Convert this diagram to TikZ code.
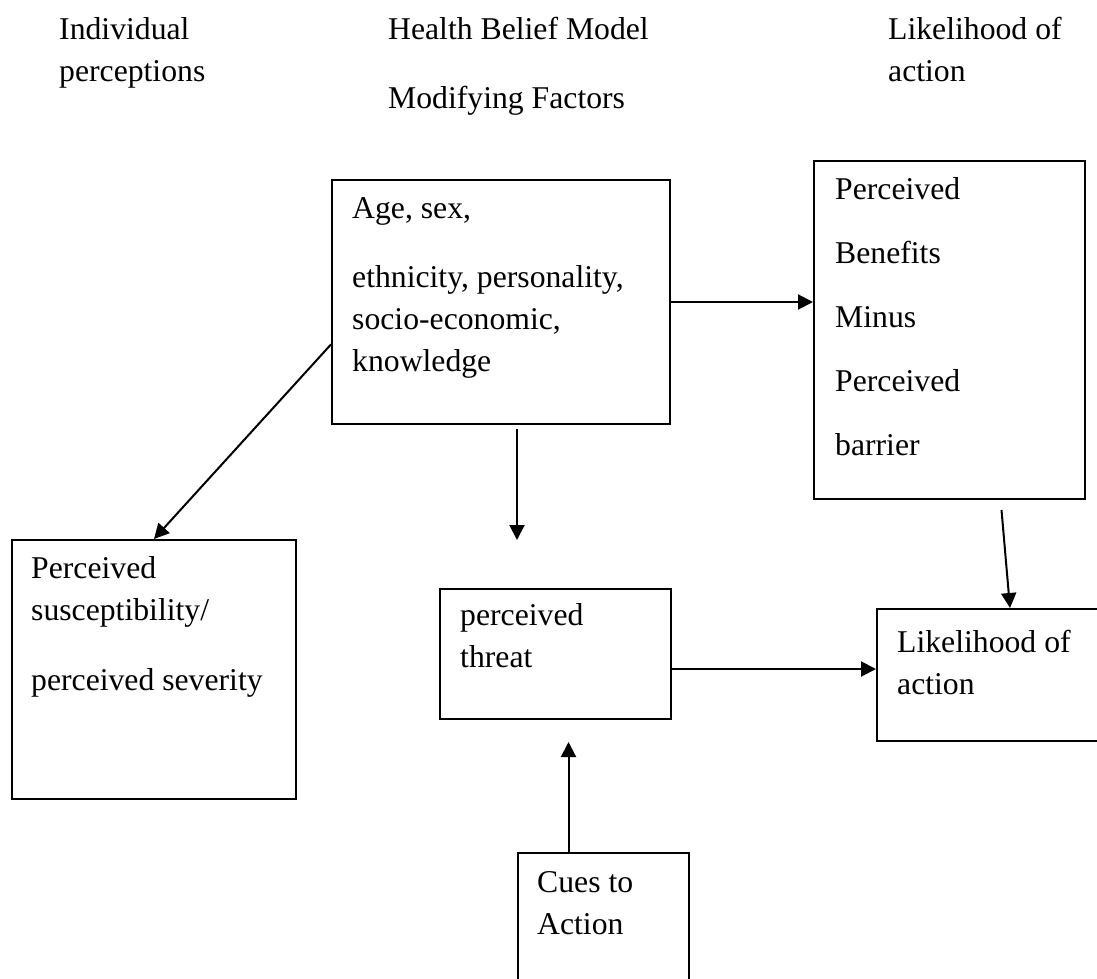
\documentclass[tikz,border=0pt]{standalone}
\usepackage{fontspec}
\setmainfont{Liberation Serif}
\usetikzlibrary{arrows.meta, positioning, calc}
\tikzset{
  frame/.style={draw=black, line width=2pt, inner sep=0pt, anchor=north west},
  txt/.style={anchor=north west, inner sep=0pt, align=left,
              font=\fontsize{31.7}{42}\selectfont},
  arr/.style={-{Triangle[length=15pt,width=15pt]}, line width=2pt},
}

\begin{document}
\begin{tikzpicture}[x=1pt, y=-1pt]
  \useasboundingbox (0,0) rectangle (1097,979);
  \clip (0,0) rectangle (1097,979);

  % headings
  \node[txt] (hind) at (59, 9.6) {\strut Individual\\ perceptions};
  \node[txt] (hhbm) at (388, 9.6) {\strut Health Belief Model\\[27pt] Modifying Factors};
  \node[txt] (hlike) at (888, 9.6) {\strut Likelihood of\\ action};

  % boxes
  \node[frame, minimum width=338, minimum height=244] (mod) at (331, 179) {};
  \node[frame, minimum width=271, minimum height=338] (ben) at (813, 160) {};
  \node[frame, minimum width=284, minimum height=259] (susc) at (11, 539) {};
  \node[frame, minimum width=231, minimum height=130] (threat) at (439, 588) {};
  \node[frame, minimum width=230, minimum height=132] (like) at (876, 608) {};
  \node[frame, minimum width=171, minimum height=140] (cues) at (517, 852) {};

  % box texts
  \node[txt] (tmod) at (352, 188.6) {\strut Age, sex,\\[27pt] ethnicity, personality,\\ socio-economic,\\ knowledge};
  \node[txt] (tben) at (835, 169.6) {\strut Perceived\\[22pt] Benefits\\[22pt] Minus\\[22pt] Perceived\\[22pt] barrier};
  \node[txt] (tsusc) at (31, 548.6) {\strut Perceived\\ susceptibility/\\[28pt] perceived severity};
  \node[txt] (tthreat) at (460, 595.6) {\strut perceived\\ threat};
  \node[txt] (tlike) at (897, 622.6) {\strut Likelihood of\\ action};
  \node[txt] (tcues) at (537, 862.6) {\strut Cues to\\ Action};

  % arrows
  \draw[arr] (mod.194) -- (susc.north);
  \draw[arr] (mod.east) -- (mod.east -| ben.west);
  \draw[arr] ([xshift=16pt, yshift=-4pt]mod.south) -- ++(0,111);
  \draw[arr] ([xshift=52pt, yshift=-10pt]ben.south) -- ([xshift=18pt]like.north);
  \draw[arr] ([yshift=-15pt]threat.east) -- ([yshift=-15pt]threat.east -| like.west);
  \draw[arr] ([xshift=-35pt]cues.north) -- ++(0,-110);
\end{tikzpicture}
\end{document}
